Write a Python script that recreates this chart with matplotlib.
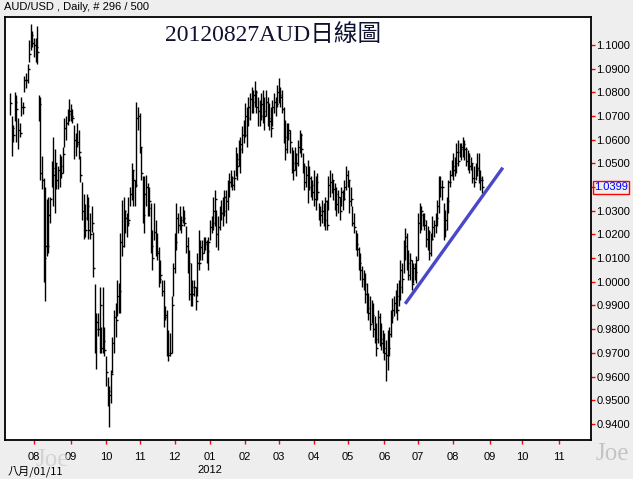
import numpy as np
import pandas as pd
import matplotlib
matplotlib.use("Agg")
import matplotlib.pyplot as plt

# daily AUD/USD bars, 2011-07-11 .. 2012-08-27 (296 bars)
start_date = "2011-07-11"

highs = [
    1.0796, 1.0700, 1.0660, 1.0800, 1.0790, 1.0690, 1.0670, 1.0780, 1.0760, 1.0870,
    1.0880, 1.0920, 1.1020, 1.1089, 1.1060, 1.1030, 1.1030, 1.1080, 1.0790, 1.0780,
    1.0530, 1.0440, 1.0400, 1.0350, 1.0360, 1.0360, 1.0510, 1.0610, 1.0560, 1.0500,
    1.0490, 1.0540, 1.0530, 1.0570, 1.0690, 1.0700, 1.0730, 1.0770, 1.0750, 1.0730,
    1.0660, 1.0630, 1.0670, 1.0640, 1.0530, 1.0420, 1.0370, 1.0330, 1.0370, 1.0360,
    1.0290, 1.0320, 1.0210, 0.9990, 0.9870, 0.9870, 0.9980, 0.9810, 0.9980, 0.9811,
    0.9685, 0.9600, 0.9558, 0.9629, 0.9769, 0.9882, 0.9910, 1.0008, 0.9994, 1.0205,
    1.0346, 1.0360, 1.0304, 1.0290, 1.0360, 1.0402, 1.0501, 1.0473, 1.0431, 1.0761,
    1.0740, 1.0712, 1.0571, 1.0445, 1.0445, 1.0452, 1.0417, 1.0402, 1.0332, 1.0220,
    1.0332, 1.0262, 1.0205, 1.0149, 1.0093, 1.0008, 1.0008, 0.9896, 0.9882, 0.9797,
    0.9783, 0.9938, 1.0079, 1.0205, 1.0332, 1.0290, 1.0318, 1.0276, 1.0318, 1.0304,
    1.0234, 1.0191, 1.0135, 1.0079, 1.0008, 1.0008, 0.9980, 1.0121, 1.0220, 1.0177,
    1.0177, 1.0191, 1.0191, 1.0177, 1.0191, 1.0262, 1.0276, 1.0360, 1.0388, 1.0304,
    1.0276, 1.0318, 1.0346, 1.0360, 1.0388, 1.0388, 1.0431, 1.0459, 1.0473, 1.0445,
    1.0473, 1.0571, 1.0543, 1.0599, 1.0613, 1.0656, 1.0684, 1.0754, 1.0740, 1.0782,
    1.0796, 1.0824, 1.0810, 1.0846, 1.0810, 1.0782, 1.0768, 1.0796, 1.0810, 1.0782,
    1.0810, 1.0782, 1.0754, 1.0740, 1.0768, 1.0796, 1.0782, 1.0830, 1.0860, 1.0824,
    1.0810, 1.0740, 1.0684, 1.0670, 1.0670, 1.0642, 1.0571, 1.0557, 1.0571, 1.0543,
    1.0599, 1.0642, 1.0628, 1.0543, 1.0501, 1.0487, 1.0515, 1.0487, 1.0445, 1.0431,
    1.0473, 1.0445, 1.0459, 1.0332, 1.0318, 1.0346, 1.0332, 1.0360, 1.0346, 1.0445,
    1.0473, 1.0459, 1.0431, 1.0417, 1.0402, 1.0388, 1.0360, 1.0402, 1.0388, 1.0431,
    1.0487, 1.0473, 1.0431, 1.0402, 1.0318, 1.0290, 1.0220, 1.0205, 1.0149, 1.0121,
    1.0065, 1.0051, 1.0037, 0.9994, 0.9952, 0.9938, 0.9924, 0.9910, 0.9854, 0.9825,
    0.9882, 0.9868, 0.9825, 0.9797, 0.9783, 0.9755, 0.9797, 0.9811, 0.9882, 0.9930,
    0.9938, 0.9966, 0.9994, 1.0008, 1.0093, 1.0079, 1.0177, 1.0226, 1.0205, 1.0135,
    1.0121, 1.0093, 1.0079, 1.0079, 1.0107, 1.0290, 1.0332, 1.0318, 1.0290, 1.0290,
    1.0262, 1.0234, 1.0220, 1.0205, 1.0276, 1.0262, 1.0290, 1.0346, 1.0445, 1.0445,
    1.0431, 1.0332, 1.0304, 1.0360, 1.0431, 1.0473, 1.0515, 1.0543, 1.0529, 1.0585,
    1.0599, 1.0585, 1.0585, 1.0613, 1.0599, 1.0571, 1.0557, 1.0543, 1.0529, 1.0501,
    1.0487, 1.0501, 1.0543, 1.0543, 1.0473, 1.0445,
]

lows = [
    1.0705, 1.0530, 1.0590, 1.0680, 1.0590, 1.0560, 1.0610, 1.0700, 1.0710, 1.0800,
    1.0820, 1.0840, 1.0930, 1.0980, 1.0990, 1.0950, 1.0930, 1.0920, 1.0680, 1.0430,
    1.0390, 1.0000, 0.9920, 1.0110, 1.0120, 1.0250, 1.0400, 1.0320, 1.0290, 1.0390,
    1.0390, 1.0400, 1.0440, 1.0460, 1.0570, 1.0600, 1.0660, 1.0680, 1.0680, 1.0670,
    1.0520, 1.0530, 1.0570, 1.0520, 1.0420, 1.0260, 1.0180, 1.0190, 1.0260, 1.0180,
    1.0180, 1.0210, 1.0020, 0.9700, 0.9630, 0.9770, 0.9700, 0.9700, 0.9700, 0.9685,
    0.9558, 0.9474, 0.9389, 0.9488, 0.9615, 0.9699, 0.9769, 0.9854, 0.9868, 0.9868,
    1.0107, 1.0149, 1.0205, 1.0191, 1.0234, 1.0318, 1.0346, 1.0318, 1.0318, 1.0402,
    1.0642, 1.0543, 1.0431, 1.0248, 1.0205, 1.0318, 1.0276, 1.0276, 1.0121, 1.0051,
    1.0177, 1.0107, 1.0093, 0.9980, 0.9994, 0.9938, 0.9811, 0.9840, 0.9685, 0.9664,
    0.9685, 0.9699, 0.9938, 1.0037, 1.0135, 1.0205, 1.0220, 1.0205, 1.0248, 1.0234,
    1.0121, 1.0037, 0.9924, 0.9896, 0.9896, 0.9938, 0.9882, 0.9938, 1.0051, 1.0093,
    1.0093, 1.0121, 1.0135, 1.0079, 1.0051, 1.0177, 1.0205, 1.0220, 1.0234, 1.0149,
    1.0135, 1.0220, 1.0262, 1.0234, 1.0276, 1.0248, 1.0304, 1.0360, 1.0402, 1.0388,
    1.0388, 1.0445, 1.0431, 1.0487, 1.0459, 1.0543, 1.0585, 1.0613, 1.0571, 1.0656,
    1.0684, 1.0712, 1.0712, 1.0740, 1.0712, 1.0656, 1.0656, 1.0684, 1.0670, 1.0642,
    1.0698, 1.0656, 1.0642, 1.0613, 1.0656, 1.0712, 1.0698, 1.0740, 1.0754, 1.0740,
    1.0712, 1.0585, 1.0515, 1.0543, 1.0599, 1.0543, 1.0459, 1.0431, 1.0473, 1.0445,
    1.0487, 1.0543, 1.0529, 1.0459, 1.0388, 1.0402, 1.0332, 1.0388, 1.0360, 1.0346,
    1.0318, 1.0304, 1.0346, 1.0262, 1.0234, 1.0248, 1.0234, 1.0220, 1.0220, 1.0304,
    1.0360, 1.0374, 1.0346, 1.0304, 1.0276, 1.0290, 1.0262, 1.0318, 1.0304, 1.0346,
    1.0388, 1.0402, 1.0290, 1.0318, 1.0234, 1.0205, 1.0135, 1.0107, 1.0051, 1.0008,
    0.9980, 0.9966, 0.9910, 0.9868, 0.9839, 0.9797, 0.9825, 0.9769, 0.9741, 0.9685,
    0.9741, 0.9727, 0.9713, 0.9699, 0.9671, 0.9580, 0.9629, 0.9685, 0.9769, 0.9825,
    0.9854, 0.9868, 0.9840, 0.9896, 0.9924, 0.9952, 1.0037, 1.0093, 1.0051, 1.0008,
    1.0008, 0.9966, 0.9994, 1.0008, 0.9994, 1.0093, 1.0205, 1.0220, 1.0234, 1.0220,
    1.0149, 1.0135, 1.0093, 1.0107, 1.0177, 1.0191, 1.0205, 1.0234, 1.0290, 1.0360,
    1.0346, 1.0177, 1.0191, 1.0220, 1.0290, 1.0402, 1.0445, 1.0431, 1.0445, 1.0459,
    1.0487, 1.0529, 1.0515, 1.0529, 1.0515, 1.0487, 1.0473, 1.0459, 1.0473, 1.0417,
    1.0402, 1.0431, 1.0445, 1.0417, 1.0388, 1.0374,
]

closes = [
    1.0754, 1.0650, 1.0620, 1.0760, 1.0730, 1.0640, 1.0630, 1.0740, 1.0740, 1.0850,
    1.0850, 1.0900, 1.0960, 1.1040, 1.1010, 1.1000, 1.0990, 1.0970, 1.0750, 1.0460,
    1.0430, 1.0100, 1.0150, 1.0150, 1.0280, 1.0350, 1.0480, 1.0450, 1.0500, 1.0430,
    1.0470, 1.0490, 1.0460, 1.0540, 1.0650, 1.0670, 1.0710, 1.0720, 1.0700, 1.0690,
    1.0600, 1.0580, 1.0590, 1.0550, 1.0450, 1.0300, 1.0270, 1.0220, 1.0320, 1.0220,
    1.0200, 1.0250, 1.0060, 0.9800, 0.9830, 0.9800, 0.9900, 0.9720, 0.9750, 0.9710,
    0.9620, 0.9540, 0.9520, 0.9610, 0.9740, 0.9850, 0.9840, 0.9940, 0.9960, 1.0170,
    1.0150, 1.0300, 1.0270, 1.0250, 1.0260, 1.0370, 1.0470, 1.0430, 1.0410, 1.0690,
    1.0700, 1.0570, 1.0460, 1.0280, 1.0370, 1.0400, 1.0310, 1.0340, 1.0150, 1.0100,
    1.0210, 1.0130, 1.0120, 1.0010, 1.0030, 0.9960, 0.9850, 0.9860, 0.9700, 0.9690,
    0.9700, 0.9900, 1.0060, 1.0170, 1.0270, 1.0240, 1.0260, 1.0240, 1.0270, 1.0250,
    1.0150, 1.0080, 0.9950, 0.9980, 0.9950, 0.9980, 0.9920, 1.0080, 1.0080, 1.0149,
    1.0120, 1.0160, 1.0170, 1.0130, 1.0170, 1.0230, 1.0250, 1.0300, 1.0350, 1.0200,
    1.0230, 1.0290, 1.0290, 1.0300, 1.0360, 1.0340, 1.0420, 1.0420, 1.0440, 1.0410,
    1.0440, 1.0520, 1.0490, 1.0560, 1.0580, 1.0620, 1.0620, 1.0700, 1.0690, 1.0740,
    1.0770, 1.0760, 1.0790, 1.0800, 1.0740, 1.0720, 1.0700, 1.0750, 1.0720, 1.0700,
    1.0760, 1.0690, 1.0680, 1.0650, 1.0740, 1.0760, 1.0750, 1.0800, 1.0790, 1.0780,
    1.0730, 1.0610, 1.0560, 1.0630, 1.0640, 1.0590, 1.0500, 1.0470, 1.0540, 1.0500,
    1.0570, 1.0620, 1.0560, 1.0490, 1.0420, 1.0450, 1.0400, 1.0440, 1.0410, 1.0380,
    1.0350, 1.0420, 1.0380, 1.0300, 1.0280, 1.0300, 1.0260, 1.0340, 1.0240, 1.0410,
    1.0420, 1.0430, 1.0390, 1.0370, 1.0330, 1.0360, 1.0300, 1.0380, 1.0350, 1.0400,
    1.0450, 1.0430, 1.0340, 1.0350, 1.0250, 1.0230, 1.0160, 1.0140, 1.0080, 1.0050,
    1.0010, 0.9990, 0.9950, 0.9890, 0.9870, 0.9820, 0.9860, 0.9800, 0.9760, 0.9720,
    0.9850, 0.9760, 0.9740, 0.9720, 0.9700, 0.9690, 0.9720, 0.9780, 0.9850, 0.9880,
    0.9910, 0.9940, 0.9880, 0.9980, 1.0050, 1.0010, 1.0150, 1.0190, 1.0080, 1.0030,
    1.0090, 0.9990, 1.0060, 1.0040, 1.0090, 1.0250, 1.0280, 1.0300, 1.0260, 1.0240,
    1.0180, 1.0210, 1.0120, 1.0180, 1.0230, 1.0240, 1.0270, 1.0320, 1.0400, 1.0400,
    1.0399, 1.0220, 1.0260, 1.0340, 1.0420, 1.0450, 1.0490, 1.0470, 1.0500, 1.0550,
    1.0510, 1.0560, 1.0570, 1.0580, 1.0560, 1.0510, 1.0530, 1.0490, 1.0500, 1.0440,
    1.0420, 1.0470, 1.0480, 1.0440, 1.0430, 1.0399,
]

# hand drawn support line (bar index, price)
trend_idx = [247, 308]
trend_px = [0.9907, 1.0482]

last_price = 1.0399
y_ticks = [0.94, 0.95, 0.96, 0.97, 0.98, 0.99, 1.00, 1.01, 1.02, 1.03,
           1.04, 1.05, 1.06, 1.07, 1.08, 1.09, 1.10]

W, H = 633, 479
BG = "#eeeeee"
YLO, YHI = 0.9332, 1.1118


def fx(px):
    return px / W


def fy(py):
    return 1 - py / H


n = len(closes)
dates = pd.bdate_range(start_date, periods=372)
idx = np.arange(n)

fig = plt.figure(figsize=(W / 100, H / 100), dpi=100, facecolor=BG)
ax = fig.add_axes([fx(5), fy(440), fx(586), 423 / H])
ax.set_facecolor("white")

ax.vlines(idx, lows, highs, color="black", lw=1.0)
ax.hlines(closes, idx, idx + 1.3, color="black", lw=1.0)

ax.plot(trend_idx, trend_px, color="#4848c8", lw=2.4, solid_capstyle="butt")

ax.set_xlim(-3.1, 363.1)
ax.set_ylim(YLO, YHI)

# month ticks at the first trading day of each month
month_pos = []
month_lab = []
prev = None
for i, d in enumerate(dates):
    key = (d.year, d.month)
    if key != prev and i > 0:
        month_pos.append(i)
        month_lab.append(d.strftime("%m"))
    prev = key
month_pos = month_pos[:16]
month_lab = month_lab[:16]
ax.set_xticks(month_pos)
ax.set_xticklabels(month_lab)

# the 1.0400 label is hidden behind the last-price box
ax.yaxis.tick_right()
ax.set_yticks(y_ticks)
ax.set_yticklabels(["" if abs(v - last_price) < 0.003 else f"{v:.4f}"
                    for v in y_ticks])

ax.tick_params(axis="both", direction="out", length=3, width=1, color="red",
               labelsize=8, labelcolor="black")
ax.tick_params(axis="x", pad=6)
ax.tick_params(axis="y", pad=1)
for lab in ax.get_xticklabels() + ax.get_yticklabels():
    lab.set_family("Liberation Sans")

for s in ax.spines.values():
    s.set_color("black")
    s.set_linewidth(1.3)

# current price box
ax.text(1.0055, (last_price - YLO) / (YHI - YLO), f"{last_price:.4f}",
        transform=ax.transAxes, ha="left", va="center", color="blue",
        fontsize=8, family="Liberation Sans",
        bbox=dict(boxstyle="square,pad=0.12", fc="none", ec="red", lw=1))

# header and title
fig.text(fx(4), fy(7), "AUD/USD , Daily, # 296 / 500", fontsize=8,
         family="Liberation Sans", ha="left", va="center")
fig.text(fx(165), fy(35), "20120827AUD日線圖", fontsize=17, color="#101030",
         family=["Liberation Serif", "Noto Sans CJK TC"], ha="left", va="center")

# bottom date row
fig.text(fx(8), fy(471), "八月/01/11", fontsize=8,
         family=["Noto Sans CJK TC", "DejaVu Sans"], ha="left", va="center")
jan = month_lab.index("01")
ax.text(month_pos[jan], -0.072, "2012", transform=ax.get_xaxis_transform(),
        fontsize=8, family="Liberation Sans", ha="center", va="center")

# watermarks
fig.text(fx(596), fy(454), "Joe", fontsize=18, color="#c4c4c4",
         family="Liberation Serif", ha="left", va="center")
fig.text(fx(36), fy(460), "Joe", fontsize=18, color="#c8c8c8", alpha=0.7,
         family="Liberation Serif", ha="left", va="center")

fig.savefig("out.png", dpi=100, facecolor=BG)
